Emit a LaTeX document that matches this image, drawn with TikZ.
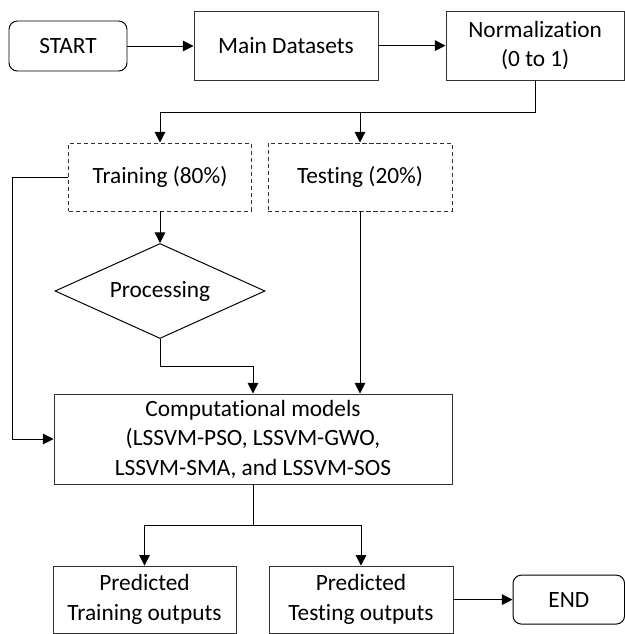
\documentclass[tikz,border=0pt]{standalone}
\usepackage{fontspec}
\setmainfont[Ligatures=NoCommon]{Carlito}
\usetikzlibrary{shapes.geometric,arrows.meta}

\begin{document}
\begin{tikzpicture}[
        font=\fontsize{16.6}{21}\selectfont,
        term/.style={rectangle, draw=black, line width=0.7pt, rounded corners=6pt, align=center},
        proc/.style={rectangle, draw=black!80, line width=0.7pt, align=center},
        part/.style={rectangle, draw=black!80, line width=0.7pt, dash pattern=on 3pt off 2pt, align=center},
        decision/.style={diamond, draw=black, line width=0.7pt, aspect=2.2, inner sep=0pt, minimum width=5.25cm, minimum height=2.375cm},
        flow/.style={line width=0.7pt, -{Triangle[length=7.5pt, width=7.5pt]}}
    ]
        \useasboundingbox (0,0) rectangle (15.625,-15.85);

        % top row
        \node[term, minimum width=2.95cm, minimum height=1.25cm] (start) at (1.7,-1.15) {START};
        \node[proc, minimum width=4.6cm, minimum height=1.725cm] (main) at (7.15,-1.14) {Main Datasets};
        \node[proc, minimum width=4.46cm, minimum height=1.725cm] (norm) at (13.38,-1.14) {Normalization\\(0 to 1)};

        % data split
        \node[part, minimum width=4.575cm, minimum height=1.7cm] (train) at (4.0,-4.425) {Training (80\%)};
        \node[part, minimum width=4.6cm, minimum height=1.7cm] (test) at (9.0,-4.425) {Testing (20\%)};
        \node[decision] (pre) at (4.0,-7.275) {Processing};

        % models
        \node[proc, minimum width=9.95cm, minimum height=2.25cm] (comp) at (6.325,-10.975) {Computational models\\(LSSVM-PSO, LSSVM-GWO,\\LSSVM-SMA, and LSSVM-SOS};

        % outputs
        \node[proc, minimum width=4.575cm, minimum height=1.675cm] (ptrain) at (3.6125,-14.99) {Predicted\\Training outputs};
        \node[proc, minimum width=4.6cm, minimum height=1.675cm] (ptest) at (9.025,-14.99) {Predicted\\Testing outputs};
        \node[term, minimum width=2.79cm, minimum height=1.225cm] (end) at (14.22,-14.99) {END};

        % helper points
        \coordinate (split) at (0,-2.8);
        \coordinate (bus) at (0.3,0);
        \coordinate (join) at (0,-13.125);

        % Connections
        \draw[flow] (start.east) -- (start.east -| main.west);
        \draw[flow] (main) -- (norm);
        \draw[flow] (norm.south) |- (split -| train.north) -- (train.north);
        \draw[flow] (split -| test.north) -- (test.north);
        \draw[flow] (train) -- (pre);
        \draw[flow] (train.west) -- (train.west -| bus) |- (comp.west);
        \draw[flow] (pre.south) -- ++(0,-0.675) -| (comp.north);
        \draw[flow] (test.south) -- (test.south |- comp.north);
        \draw[flow] (comp.south) -- (comp.south |- join) -| (ptrain.north);
        \draw[flow] (comp.south |- join) -| (ptest.north);
        \draw[flow] (ptest) -- (end);
    \end{tikzpicture}
\end{document}
